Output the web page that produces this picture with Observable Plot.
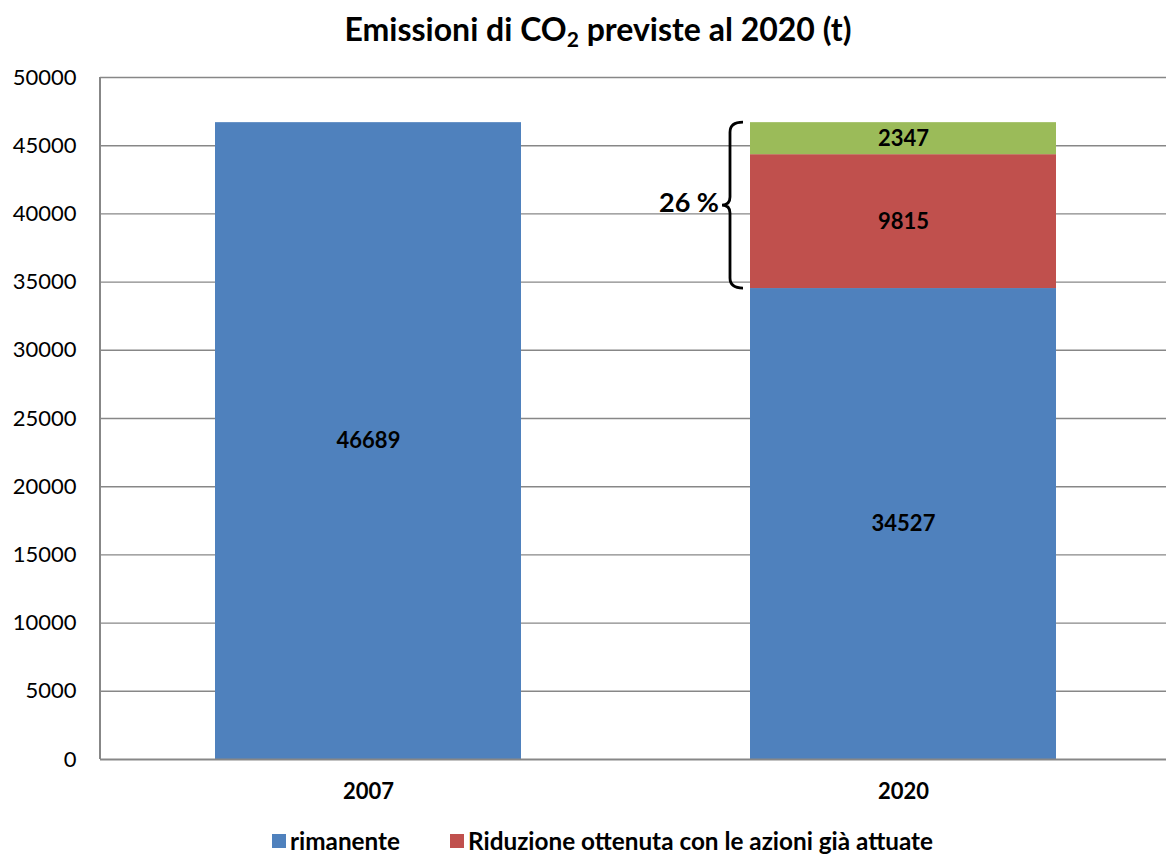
<!DOCTYPE html>
<html>
<head>
<meta charset="utf-8">
<script src="https://cdn.jsdelivr.net/npm/d3@7"></script>
<script src="https://cdn.jsdelivr.net/npm/@observablehq/plot@0.6"></script>
<style>
  html, body { margin: 0; padding: 0; background: #fff; }
  body { width: 1167px; height: 855px; overflow: hidden; font-family: Lato, "Open Sans", sans-serif; position: relative; }
  #title { height: 58px; line-height: 58px; text-align: center; font-weight: bold; font-size: 32px; color: #000; padding-left: 29px; box-sizing: border-box; margin-bottom: 2px; }
  #title sub { font-size: 21px; vertical-align: -6px; line-height: 0; }
  #legend { position: absolute; top: 826px; left: 272px; display: flex; gap: 0; font-weight: bold; font-size: 24.3px; color: #000; }
  #legend .item { display: flex; align-items: center; gap: 4px; }
  #legend .item + .item { margin-left: 50px; }
  #legend .sw { width: 14px; height: 14px; display: inline-block; }
</style>
</head>
<body>
<div id="title">Emissioni di CO<sub>2</sub> previste al 2020 (t)</div>
<div id="chart"></div>
<div id="legend"></div>
<script>
const categories = ["2007", "2020"];
const seriesNames = ["rimanente", "Riduzione ottenuta con le azioni già attuate", "Riduzione prevista"];
const seriesColors = ["#4F81BD", "#C0504D", "#9BBB59"];
const rimanente = [46689, 34527];
const riduzioneAttuate = [0, 9815];
const riduzionePrevista = [0, 2347];
const yTicks = [0, 5000, 10000, 15000, 20000, 25000, 30000, 35000, 40000, 45000, 50000];
const legendNames = ["rimanente", "Riduzione ottenuta con le azioni già attuate"];
const braceLabel = "26 %";

const seriesValues = [rimanente, riduzioneAttuate, riduzionePrevista];
const rows = [];
categories.forEach((c, i) => {
  let base = 0;
  seriesNames.forEach((s, k) => {
    const v = seriesValues[k][i];
    if (v > 0) rows.push({cat: c, series: s, value: v, y1: base, y2: base + v, mid: base + v / 2});
    base += v;
  });
});

const braceCat = "2020";
const braceLow = rimanente[1];
const braceHigh = rimanente[1] + riduzioneAttuate[1] + riduzionePrevista[1];

const braceMark = (index, scales, values, dimensions) => {
  const x0 = scales.x(braceCat);
  const top = scales.y(braceHigh), bot = scales.y(braceLow), mid = (top + bot) / 2;
  const xr = x0 - 7, xs = x0 - 20, xm = x0 - 28;
  const g = d3.create("svg:g");
  g.append("path")
    .attr("d", `M${xr},${top} Q${xs},${top} ${xs},${top + 10} L${xs},${mid - 8} Q${xs},${mid} ${xm},${mid} Q${xs},${mid} ${xs},${mid + 8} L${xs},${bot - 10} Q${xs},${bot} ${xr},${bot}`)
    .attr("fill", "none").attr("stroke", "#000").attr("stroke-width", 2.8);
  g.append("text")
    .attr("x", xm - 3).attr("y", mid - 3).attr("dy", "0.35em")
    .attr("text-anchor", "end").attr("font-weight", "bold").attr("font-size", 27)
    .text(braceLabel);
  return g.node();
};

const chart = Plot.plot({
  width: 1167,
  height: 770,
  marginLeft: 100,
  marginRight: 1,
  marginTop: 17,
  marginBottom: 71,
  style: {fontFamily: "Lato, 'Open Sans', sans-serif", fontSize: "22px", color: "#000", background: "#fff", overflow: "visible"},
  x: {domain: categories, paddingInner: 0.4286, paddingOuter: 0.2096, align: 0.512, label: null},
  y: {domain: [0, 50000], label: null},
  color: {domain: seriesNames, range: seriesColors},
  marks: [
    Plot.ruleY(yTicks.filter(d => d > 0), {stroke: "#878787", strokeWidth: 1.4}),
    Plot.barY(rows, {x: "cat", y1: "y1", y2: "y2", fill: "series"}),
    Plot.text(rows, {x: "cat", y: "mid", text: d => String(d.value), fontWeight: "bold", fontSize: 22, fill: "#000"}),
    Plot.axisY({ticks: yTicks, tickSize: 0, tickPadding: 24, tickFormat: d => String(d), fontSize: 22}),
    Plot.axisX({tickSize: 0, tickPadding: 24, fontWeight: "bold", fontSize: 22}),
    Plot.ruleY([0], {stroke: "#878787", strokeWidth: 2.2}),
    (index, scales, values, dimensions) => {
      const g = d3.create("svg:g");
      g.append("line")
        .attr("x1", dimensions.marginLeft).attr("x2", dimensions.marginLeft)
        .attr("y1", dimensions.marginTop).attr("y2", dimensions.height - dimensions.marginBottom)
        .attr("stroke", "#878787").attr("stroke-width", 2);
      return g.node();
    },
    braceMark
  ]
});
document.getElementById("chart").appendChild(chart);

const legend = document.getElementById("legend");
legendNames.forEach(name => {
  const k = seriesNames.indexOf(name);
  const item = document.createElement("div");
  item.className = "item";
  const sw = document.createElement("span");
  sw.className = "sw";
  sw.style.background = seriesColors[k];
  const t = document.createElement("span");
  t.textContent = name;
  item.appendChild(sw);
  item.appendChild(t);
  legend.appendChild(item);
});
</script>
</body>
</html>
